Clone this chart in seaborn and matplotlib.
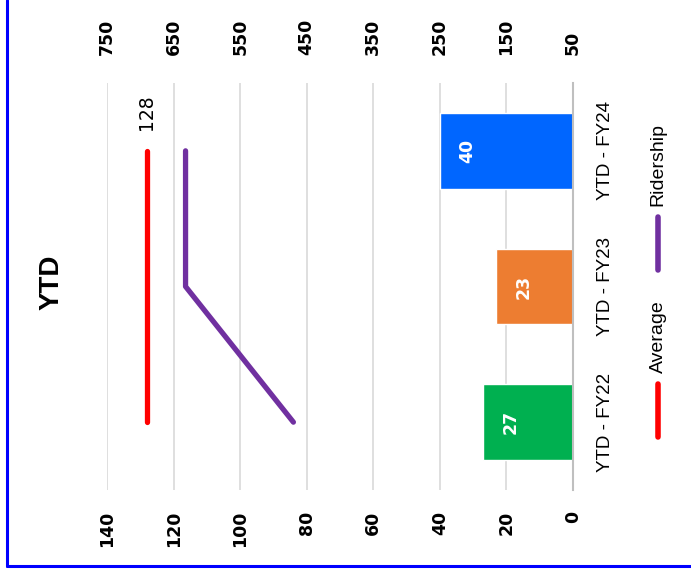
import matplotlib
matplotlib.use("Agg")
import matplotlib.pyplot as plt
import seaborn as sns
from matplotlib.lines import Line2D

# ---- data ----
categories = ["YTD - FY22", "YTD - FY23", "YTD - FY24"]
bar_values = [27, 23, 40]
bar_colors = ["#00B050", "#ED7D31", "#0066FF"]
average = [128, 128, 128]
ridership = [470, 632, 632]          # plotted on secondary axis
primary_ticks = [0, 20, 40, 60, 80, 100, 120, 140]
secondary_ticks = [50, 150, 250, 350, 450, 550, 650, 750]
title = "YTD"
legend_labels = ["Average", "Ridership"]

sns.set_theme(style="white")
plt.rcParams["text.color"] = "black"
plt.rcParams["xtick.color"] = "black"
plt.rcParams["ytick.color"] = "black"

W, H = 691, 576
fig = plt.figure(figsize=(W / 100, H / 100), dpi=100)

def fx(px):
    return px / W

def fy(py):
    return 1 - py / H

ax = fig.add_axes([fx(107), fy(490), fx(573) - fx(107), fy(83) - fy(490)])

# order: top to bottom -> FY24, FY23, FY22
order = categories[::-1]
vals_ordered = [bar_values[categories.index(c)] for c in order]
cols_ordered = [bar_colors[categories.index(c)] for c in order]
sns.barplot(x=vals_ordered, y=order, hue=order, palette=cols_ordered, orient="h",
            width=0.56, legend=False, ax=ax, saturation=1)

pos = {c: order.index(c) for c in categories}
ypos = [pos[c] for c in categories]

ax.set_xlim(140, 0)
ax.set_ylim(2.5, -0.5)
ax.set_xticks(primary_ticks)
ax.set_xticklabels([str(t) for t in primary_ticks], rotation=90, fontweight="bold",
                   fontsize=12.5, family="DejaVu Sans", color="black")
ax.tick_params(axis="x", length=0, pad=15)
ax.grid(axis="x", color="#D9D9D9", linewidth=1.2)
ax.set_axisbelow(True)

ax.yaxis.tick_right()
ax.set_yticks(range(len(order)))
ax.set_yticklabels(order, rotation=90, va="center", ha="left", fontsize=13.5,
                   family="Liberation Sans", color="black")
ax.tick_params(axis="y", length=0, pad=17)

for s in ["left", "top", "bottom"]:
    ax.spines[s].set_visible(False)
ax.spines["right"].set_color("#BFBFBF")
ax.spines["right"].set_linewidth(1.5)

# average line (primary axis)
ax.plot(average, ypos, color="#FF0000", linewidth=3.8, solid_capstyle="round", zorder=4)
ax.annotate(str(average[-1]), xy=(average[-1], pos[categories[-1]]), xytext=(0, 28),
            textcoords="offset points", rotation=90, ha="center", va="center",
            fontsize=13.5, family="DejaVu Sans", color="black")

# bar labels
for c, v in zip(categories, bar_values):
    ax.annotate(str(v), xy=(v, pos[c]), xytext=(19.5, 0), textcoords="offset points",
                rotation=90, ha="center", va="center", color="white",
                fontweight="bold", fontsize=12.5, family="DejaVu Sans")

ax.set_xlabel("")
ax.set_ylabel("")

# secondary axis on top
ax2 = ax.twiny()
ax2.set_xlim(750, 50)
ax2.set_xticks(secondary_ticks)
ax2.set_xticklabels([str(t) for t in secondary_ticks], rotation=90, fontweight="bold",
                    fontsize=12.5, family="DejaVu Sans", color="black")
ax2.tick_params(axis="x", length=0, pad=20)
for s in ax2.spines.values():
    s.set_visible(False)
ax2.plot(ridership, ypos, color="#7030A0", linewidth=3.8, solid_capstyle="round", zorder=4)
ax2.set_ylim(2.5, -0.5)

# title
fig.text(fx(52), fy(282), title, rotation=90, ha="center", va="center",
         fontsize=20, fontweight="bold", family="Liberation Sans", color="black")

# legend (rotated layout)
leg_x = 658
fig.add_artist(Line2D([fx(leg_x), fx(leg_x)], [fy(437), fy(384)], color="#FF0000",
                      linewidth=4, solid_capstyle="round", transform=fig.transFigure))
fig.text(fx(leg_x), fy(337), legend_labels[0], rotation=90, ha="center", va="center",
         fontsize=14, family="Liberation Sans", color="black")
fig.add_artist(Line2D([fx(leg_x), fx(leg_x)], [fy(270), fy(217)], color="#7030A0",
                      linewidth=4, solid_capstyle="round", transform=fig.transFigure))
fig.text(fx(leg_x), fy(165), legend_labels[1], rotation=90, ha="center", va="center",
         fontsize=14, family="Liberation Sans", color="black")

# blue frame (left and bottom edges)
fig.add_artist(Line2D([fx(7), fx(7)], [fy(566), 1.0], color="#0000FF", linewidth=2.2,
                      transform=fig.transFigure))
fig.add_artist(Line2D([fx(7), 1.0], [fy(566), fy(566)], color="#0000FF", linewidth=2.2,
                      transform=fig.transFigure))

fig.savefig("out.png", dpi=100)
